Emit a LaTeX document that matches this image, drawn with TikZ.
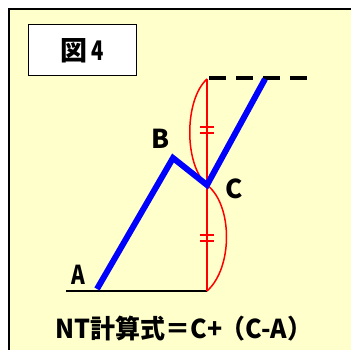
\documentclass[tikz,border=0pt]{standalone}
\usepackage{fontspec}
\setmainfont{Noto Sans CJK JP}
\begin{document}
\begin{tikzpicture}[x=1pt,y=-1pt,
  lbl/.style={font=\bfseries\fontsize{26}{26}\selectfont, inner sep=0pt},
  blueline/.style={draw=blue, line width=6pt, line join=miter},
  redline/.style={draw=red, line width=1.5pt}]
\useasboundingbox (0,0) rectangle (351,350);
\fill[white] (0,0) rectangle (351,350);
\begin{scope}
\clip (0,0) rectangle (351,350);
\filldraw[fill={rgb,255:red,255;green,255;blue,204}, draw=black, line width=1.5pt] (9,9) rectangle (370,370);
\end{scope}
% title box
\node[draw=black, line width=1pt, fill=white, minimum width=108pt, minimum height=51pt, inner sep=0pt,
  font=\bfseries\fontsize{27}{27}\selectfont] (title) at (82,50.5) {図\,\scalebox{0.75}[1]{4}};
% points
\coordinate (A) at (97,289);
\coordinate (B) at (173,158);
\coordinate (C) at (207,185);
\coordinate (T) at (265,79);
\coordinate (Rtop) at (207,79);
\coordinate (Rbot) at (207,291);
\coordinate (L0) at (66,291);
\coordinate (D1) at (307,78);
% baseline and dashed line
\draw[black, line width=2pt] (L0) -- (Rbot);
\draw[black, line width=4pt, dash pattern=on 17pt off 10pt] (Rtop) ++(2,-1) -- (D1);
% red lines
\draw[redline] (Rtop) .. controls (184,100) and (184,165) .. (C);
\draw[redline] (C) .. controls (233,205) and (233,268) .. (Rbot);
\draw[redline] (Rtop) -- (Rbot);
\foreach \yy in {127,133,235,241} \draw[red, line width=1.8pt] (200,\yy) -- (214,\yy);
% blue line
\draw[blueline] (A) -- (B) -- (C) -- (T);
% labels
\node[lbl, xscale=0.8] (la) at (78,275) {A};
\node[lbl] (lb) at (161,139) {B};
\node[lbl] (lc) at (234,189) {C};
\node[font=\bfseries\fontsize{26}{26}\selectfont, inner sep=0pt, xscale=0.96] (formula) at (184,329) {NT計算式＝C+\kern-2pt（C-A）};
\end{tikzpicture}
\end{document}
